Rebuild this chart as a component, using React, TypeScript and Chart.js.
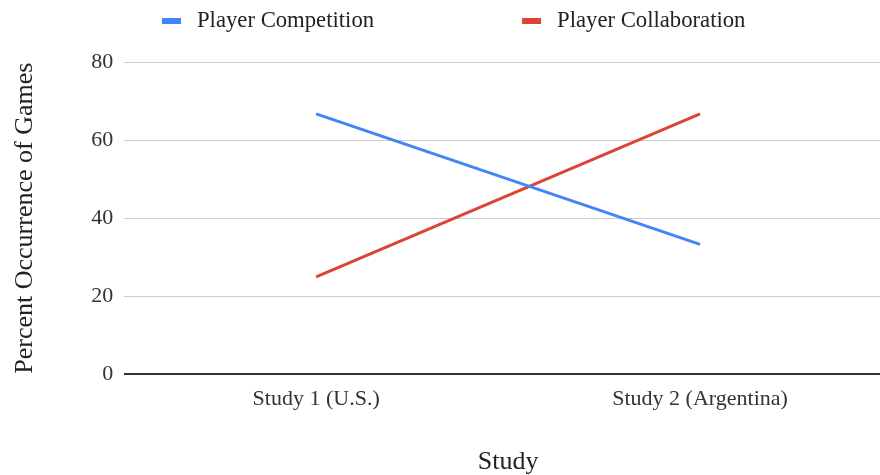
import React, { useEffect, useRef } from "react";
import { Chart, registerables } from "chart.js";

Chart.register(...registerables);

const categories = ["Study 1 (U.S.)", "Study 2 (Argentina)"];
const competition = [66.7, 33.3];
const collaboration = [25, 66.7];
const yTicks = [0, 20, 40, 60, 80];
const seriesLabels = ["Player Competition", "Player Collaboration"];
const seriesColors = ["#4285F4", "#DB4437"];

const FONT = '"Liberation Serif", "Times New Roman", serif';

export default function App() {
  const ref = useRef<HTMLCanvasElement>(null);

  useEffect(() => {
    document.body.style.margin = "0";
    const legendPlugin = {
      id: "topLegend",
      afterDraw(chart: any) {
        const ctx = chart.ctx as CanvasRenderingContext2D;
        ctx.save();
        ctx.font = `22.7px ${FONT}`;
        ctx.textBaseline = "middle";
        ctx.textAlign = "left";
        let x = 162;
        const cy = 21;
        chart.data.datasets.forEach((ds: any) => {
          ctx.fillStyle = ds.borderColor;
          ctx.fillRect(x, cy - 3, 19, 6);
          ctx.fillStyle = "#222";
          ctx.fillText(ds.label, x + 35, cy);
          x += 35 + ctx.measureText(ds.label).width + 148;
        });
        ctx.restore();
      },
    };

    const chart = new Chart(ref.current!, {
      type: "line",
      data: {
        labels: categories,
        datasets: [
          {
            label: seriesLabels[0],
            data: competition,
            borderColor: seriesColors[0],
            backgroundColor: seriesColors[0],
            borderWidth: 3,
            pointRadius: 0,
            tension: 0,
          },
          {
            label: seriesLabels[1],
            data: collaboration,
            borderColor: seriesColors[1],
            backgroundColor: seriesColors[1],
            borderWidth: 3,
            pointRadius: 0,
            tension: 0,
          },
        ],
      },
      options: {
        responsive: false,
        animation: false,
        layout: { padding: { top: 62, left: 0, right: 0, bottom: 0 } },
        plugins: {
          legend: { display: false },
          tooltip: { enabled: false },
        },
        scales: {
          x: {
            offset: true,
            grid: { display: false },
            border: { display: false },
            ticks: {
              padding: 4,
              color: "#333",
              font: { family: FONT, size: 22 },
            },
            title: {
              display: true,
              text: "Study",
              color: "#222",
              font: { family: FONT, size: 26 },
              padding: { top: 30, bottom: -3 },
            },
          },
          y: {
            min: 0,
            max: 80,
            afterBuildTicks: (axis: any) => {
              axis.ticks = yTicks.map((v) => ({ value: v }));
            },
            grid: {
              drawTicks: false,
              color: (c: any) => (c.tick && c.tick.value === 0 ? "#333" : "#ccc"),
              lineWidth: (c: any) => (c.tick && c.tick.value === 0 ? 2 : 1),
            },
            border: { display: false },
            ticks: {
              padding: 11,
              color: "#333",
              font: { family: FONT, size: 22 },
            },
            title: {
              display: true,
              text: "Percent Occurrence of Games",
              color: "#222",
              font: { family: FONT, size: 26 },
              padding: { top: 10, bottom: 39 },
            },
          },
        },
      },
      plugins: [legendPlugin],
    });
    return () => chart.destroy();
  }, []);

  return (
    <div style={{ width: 880, height: 475, overflow: "hidden", background: "#fff" }}>
      <canvas ref={ref} width={892} height={475} style={{ display: "block" }} />
    </div>
  );
}
